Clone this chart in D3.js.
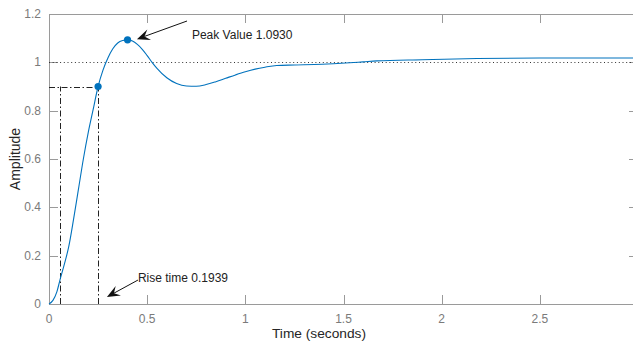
<!DOCTYPE html>
<html><head><meta charset="utf-8">
<script src="https://cdn.jsdelivr.net/npm/d3@7"></script>
<style>
html,body{margin:0;padding:0;background:#fff;}
svg{display:block;font-family:"Liberation Sans",Arial,sans-serif;}
</style></head>
<body><svg id="c" width="633" height="342"></svg>
<script>
// ---- data ----
const time = [0,0.02,0.04,0.056,0.08,0.1,0.125,0.15,0.175,0.2,0.225,0.25,0.275,0.3,0.325,0.35,0.375,0.4,0.425,0.45,0.475,0.5,0.525,0.55,0.6,0.65,0.7,0.75,0.8,0.85,0.9,0.95,1.0,1.05,1.1,1.16,1.25,1.39,1.51,1.6,1.67,1.9,2.18,2.5,3.0];
const amplitude = [0,0.015,0.05,0.1,0.17,0.235,0.35,0.475,0.6,0.71,0.805,0.9,0.968,1.018,1.056,1.08,1.09,1.093,1.088,1.074,1.054,1.028,1.0,0.975,0.936,0.912,0.902,0.901,0.908,0.92,0.934,0.948,0.961,0.972,0.98,0.987,0.989,0.992,0.997,1.002,1.006,1.011,1.016,1.018,1.018];
const xTicks = [0,0.5,1,1.5,2,2.5];
const xTickLabels = ["0","0.5","1","1.5","2","2.5"];
const yTicks = [0,0.2,0.4,0.6,0.8,1,1.2];
const yTickLabels = ["0","0.2","0.4","0.6","0.8","1","1.2"];
const peakPoint = [0.4, 1.093];
const risePoint = [0.25, 0.9];
const riseStart = 0.0561;
const riseEnd = 0.25;
const riseLevel = 0.9;
const finalValue = 1;
const peakLabel = "Peak Value 1.0930";
const riseLabel = "Rise time 0.1939";
const peakArrow = [[0.703,1.171],[0.448,1.096]];
const riseArrow = [[0.453,0.099],[0.295,0.029]];
const peakTextPos = [0.728,1.113];
const riseTextPos = [0.453,0.108];

// ---- layout ----
const svg = d3.select("#c");
const L=49, R=638, T=14, B=304;
const x = d3.scaleLinear().domain([0,3]).range([L,R]);
const y = d3.scaleLinear().domain([0,1.2]).range([B,T]);
const axisCol="#9a9a9a", tickTxt="#7a7a7a", blue="#0072BD";

// frame
svg.append("rect").attr("x",L+0.5).attr("y",T+0.5).attr("width",R-L).attr("height",B-T)
  .attr("fill","none").attr("stroke",axisCol).attr("stroke-width",1);

// ticks
const tl=9;
const gx=svg.append("g");
xTicks.forEach((t,i)=>{
  const px=Math.round(x(t))+0.5;
  gx.append("line").attr("x1",px).attr("x2",px).attr("y1",B).attr("y2",B-tl).attr("stroke",axisCol);
  gx.append("line").attr("x1",px).attr("x2",px).attr("y1",T).attr("y2",T+tl).attr("stroke",axisCol);
  gx.append("text").attr("x",x(t)).attr("y",B+18.5).attr("text-anchor","middle")
    .attr("font-size",12).attr("fill",tickTxt).text(xTickLabels[i]);
});
yTicks.forEach((v,i)=>{
  const py=Math.round(y(v))+0.5;
  gx.append("line").attr("x1",L).attr("x2",L+tl).attr("y1",py).attr("y2",py).attr("stroke",axisCol);
  gx.append("line").attr("x1",R).attr("x2",R-tl).attr("y1",py).attr("y2",py).attr("stroke",axisCol);
  gx.append("text").attr("x",L-8).attr("y",y(v)+4).attr("text-anchor","end")
    .attr("font-size",12).attr("fill",tickTxt).text(yTickLabels[i]);
});

// labels
svg.append("text").attr("x",319).attr("y",337.5).attr("text-anchor","middle")
  .attr("font-size",13).attr("textLength",94).attr("lengthAdjust","spacingAndGlyphs")
  .attr("fill","#262626").text("Time (seconds)");
svg.append("text").attr("transform",`translate(20,${(T+B)/2}) rotate(-90)`).attr("text-anchor","middle")
  .attr("font-size",14).attr("fill","#262626").text("Amplitude");

// final value dotted line
svg.append("line").attr("x1",L).attr("x2",R).attr("y1",Math.round(y(finalValue))+0.5).attr("y2",Math.round(y(finalValue))+0.5)
  .attr("stroke","#333").attr("stroke-dasharray","1,2.7");

// rise time dash-dot lines
const dd="6,2.5,1.5,2.5";
svg.append("line").attr("x1",L).attr("x2",x(riseEnd)).attr("y1",Math.round(y(riseLevel))+0.5).attr("y2",Math.round(y(riseLevel))+0.5)
  .attr("stroke","#222").attr("stroke-dasharray",dd);
[riseStart,riseEnd].forEach(t=>{
  svg.append("line").attr("x1",Math.round(x(t))+0.5).attr("x2",Math.round(x(t))+0.5).attr("y1",B).attr("y2",y(riseLevel))
    .attr("stroke","#222").attr("stroke-dasharray",dd);
});

// response curve
const pts=time.map((t,i)=>[t,amplitude[i]]);
svg.append("path").datum(pts)
  .attr("d",d3.line().x(d=>x(d[0])).y(d=>y(d[1])).curve(d3.curveMonotoneX))
  .attr("fill","none").attr("stroke",blue).attr("stroke-width",1.1);

// markers
[peakPoint,risePoint].forEach(p=>{
  svg.append("circle").attr("cx",x(p[0])).attr("cy",y(p[1])).attr("r",3.6).attr("fill",blue);
});

// arrows
function arrow(a){
  const x0=x(a[0][0]),y0=y(a[0][1]),x1=x(a[1][0]),y1=y(a[1][1]);
  const ang=Math.atan2(y1-y0,x1-x0);
  const len=13, w=5.5, notch=8;
  const ux=Math.cos(ang), uy=Math.sin(ang), nx=-uy, ny=ux;
  const bx=x1-ux*len, by=y1-uy*len;
  svg.append("line").attr("x1",x0).attr("y1",y0).attr("x2",x1-ux*notch).attr("y2",y1-uy*notch)
    .attr("stroke","#111").attr("stroke-width",1);
  const p=[[x1,y1],[bx+nx*w,by+ny*w],[x1-ux*notch,y1-uy*notch],[bx-nx*w,by-ny*w]];
  svg.append("path").attr("d","M"+p.map(q=>q.join(",")).join("L")+"Z").attr("fill","#111");
}
arrow(peakArrow); arrow(riseArrow);

svg.append("text").attr("x",x(peakTextPos[0])).attr("y",y(peakTextPos[1])+4).attr("font-size",12)
  .attr("fill","#222").text(peakLabel);
svg.append("text").attr("x",x(riseTextPos[0])).attr("y",y(riseTextPos[1])+4).attr("font-size",12)
  .attr("fill","#222").text(riseLabel);
</script></body></html>
